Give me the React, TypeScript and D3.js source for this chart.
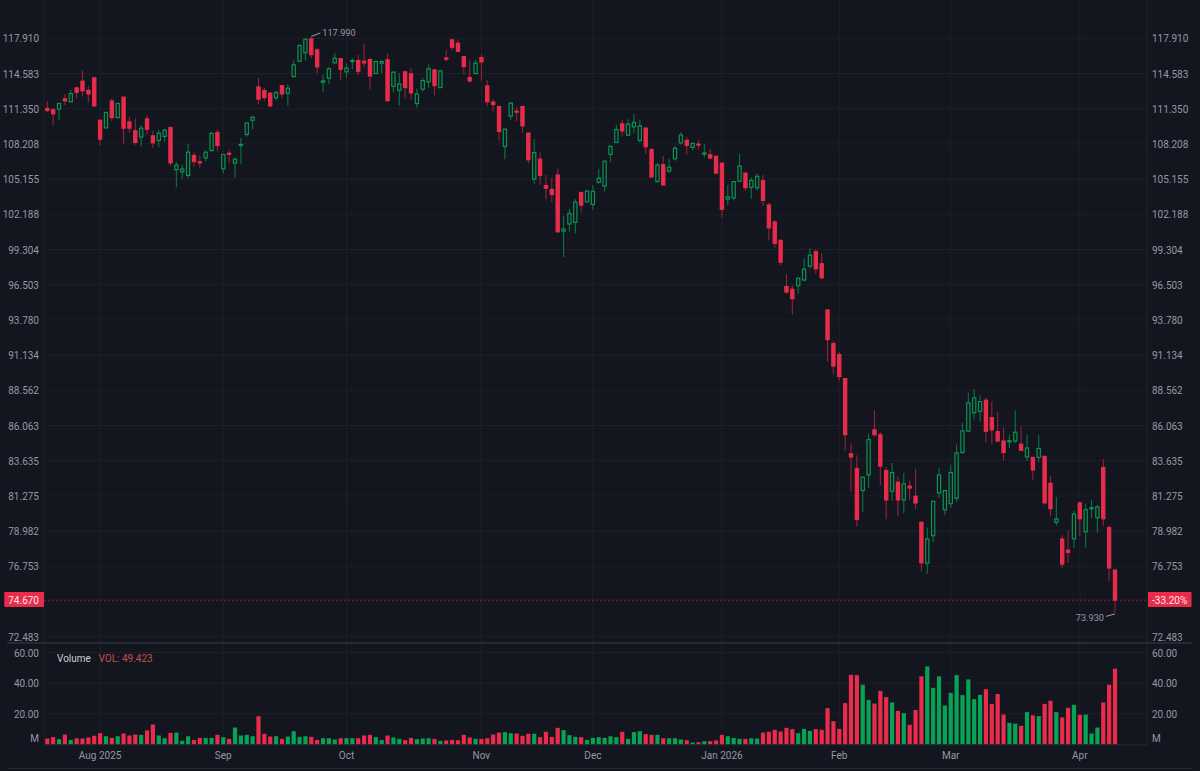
import * as d3 from 'd3'

// Daily candles, Jul 2025 - Apr 2026
const opens = [
  111.37, 111.25, 111.31, 112.25, 111.98, 113.25, 113.87, 113.01, 114.18, 110.31, 109.63, 112.04, 110.55, 112.40, 110.16,
  109.37, 108.81, 110.43, 108.92, 108.51, 108.87, 109.66, 105.96, 105.78, 105.47, 107.19, 106.64, 106.99, 107.62, 109.22,
  106.04, 107.39, 106.53, 108.07, 109.04, 110.31, 113.34, 113.01, 112.76, 112.34, 113.46, 112.76, 114.30, 115.73, 116.54,
  117.85, 116.80, 113.77, 114.15, 115.58, 115.98, 114.74, 115.70, 115.80, 115.73, 115.89, 114.58, 115.55, 115.86, 113.40,
  113.04, 114.74, 114.55, 111.82, 113.13, 113.81, 114.92, 113.28, 116.04, 117.76, 117.44, 116.17, 114.21, 114.58, 116.07,
  113.43, 111.95, 111.55, 107.98, 110.67, 111.13, 111.55, 109.16, 105.15, 106.87, 104.60, 104.27, 105.50, 100.80, 101.38,
  101.52, 104.02, 103.23, 103.01, 104.88, 104.56, 107.29, 108.34, 109.99, 108.98, 109.72, 108.51, 109.60, 107.70, 104.94,
  106.39, 105.84, 106.91, 108.30, 108.51, 107.90, 108.19, 107.32, 107.26, 107.12, 106.53, 103.46, 103.57, 104.97, 105.67,
  104.45, 104.42, 105.01, 102.96, 101.55, 100.04, 96.35, 96.14, 96.43, 96.87, 97.97, 99.12, 98.16, 94.54, 91.99,
  91.17, 89.41, 84.11, 83.11, 81.63, 82.67, 85.76, 85.41, 82.96, 81.58, 82.18, 81.01, 81.92, 81.25, 79.55,
  76.95, 78.69, 81.47, 80.36, 80.76, 81.12, 84.20, 85.67, 86.96, 87.06, 87.85, 86.61, 85.63, 84.98, 84.93,
  84.98, 84.77, 83.89, 83.86, 83.86, 83.93, 82.11, 79.55, 78.47, 77.77, 78.49, 80.81, 78.94, 80.44, 79.85,
  83.17, 79.20, 76.52,
]
const closes = [
  111.19, 110.89, 111.82, 112.07, 112.73, 112.85, 112.98, 112.70, 111.61, 108.63, 111.01, 110.55, 111.82, 109.60, 109.60,
  108.34, 109.60, 109.51, 108.31, 109.16, 109.42, 106.56, 106.36, 106.02, 107.48, 106.67, 106.56, 107.48, 109.13, 108.07,
  107.28, 107.30, 106.87, 108.16, 110.07, 110.58, 112.22, 112.37, 111.61, 112.82, 112.70, 113.22, 115.39, 117.22, 117.82,
  116.36, 115.20, 113.90, 115.02, 116.01, 114.98, 115.08, 115.80, 114.80, 115.58, 114.36, 115.70, 115.70, 112.07, 114.71,
  113.62, 113.28, 112.79, 112.70, 113.93, 115.02, 113.46, 114.83, 115.92, 117.06, 116.67, 115.24, 113.90, 115.55, 115.67,
  111.98, 111.73, 109.31, 109.51, 111.85, 111.04, 109.81, 106.82, 107.45, 105.47, 104.38, 103.85, 100.75, 100.97, 102.26,
  103.21, 102.96, 104.14, 104.11, 105.22, 106.70, 107.99, 109.48, 109.36, 109.96, 110.11, 109.81, 107.96, 105.34, 106.36,
  104.65, 106.18, 107.82, 109.00, 108.08, 108.25, 108.11, 107.41, 106.97, 105.67, 102.60, 103.66, 104.94, 106.27, 104.42,
  105.04, 105.39, 103.35, 101.07, 99.80, 98.29, 95.93, 95.41, 97.00, 97.73, 98.85, 97.76, 97.05, 92.29, 90.33,
  89.56, 85.43, 83.89, 79.73, 82.52, 85.08, 85.43, 83.27, 81.01, 82.83, 81.01, 82.07, 81.80, 80.81, 76.97,
  78.48, 80.92, 82.67, 81.63, 82.83, 84.16, 85.69, 87.66, 88.02, 87.75, 85.66, 85.76, 84.98, 84.20, 85.01,
  85.59, 84.34, 84.50, 83.01, 84.47, 80.82, 80.44, 79.76, 76.89, 77.63, 80.08, 79.78, 80.37, 80.50, 80.55,
  79.78, 76.65, 74.67,
]
const highs = [
  112.04, 111.43, 111.92, 112.67, 113.07, 113.37, 114.86, 113.43, 114.18, 110.31, 111.07, 112.28, 111.88, 112.40, 110.61,
  110.49, 109.87, 110.79, 109.37, 109.45, 109.54, 109.66, 106.62, 106.41, 108.19, 107.45, 107.16, 107.62, 109.28, 109.45,
  107.33, 107.74, 107.02, 108.72, 110.13, 110.70, 114.18, 113.28, 112.85, 112.98, 113.52, 113.58, 115.80, 117.35, 117.92,
  117.99, 116.99, 114.46, 115.17, 116.51, 116.04, 115.52, 115.98, 116.32, 117.38, 116.01, 115.80, 115.86, 116.48, 114.80,
  114.61, 114.83, 115.08, 113.19, 114.18, 115.45, 114.98, 114.89, 116.80, 117.82, 117.79, 116.23, 115.80, 115.86, 116.36,
  113.96, 112.22, 111.61, 109.57, 111.98, 111.49, 111.58, 109.22, 108.63, 107.48, 105.50, 105.27, 106.04, 102.06, 102.62,
  103.46, 104.02, 104.19, 104.62, 106.04, 106.76, 108.08, 109.90, 110.38, 110.41, 110.89, 110.35, 109.69, 107.85, 106.53,
  107.17, 106.88, 108.05, 109.21, 108.83, 108.34, 108.51, 108.19, 107.76, 107.12, 106.53, 104.65, 104.97, 107.35, 105.73,
  105.30, 105.64, 105.50, 103.15, 101.71, 100.15, 97.34, 96.43, 97.08, 98.61, 99.40, 99.34, 99.01, 94.54, 92.19,
  91.37, 89.41, 84.82, 84.00, 82.56, 85.48, 87.13, 85.60, 83.23, 83.48, 82.56, 82.78, 82.29, 83.09, 79.55,
  79.21, 80.92, 83.13, 81.67, 83.36, 84.75, 86.26, 88.41, 88.65, 88.18, 88.02, 87.78, 86.99, 85.94, 85.42,
  87.13, 85.99, 85.42, 83.89, 85.38, 83.93, 82.60, 81.21, 78.73, 79.05, 80.30, 80.90, 80.75, 80.99, 80.68,
  83.73, 79.35, 76.52,
]
const lows = [
  111.04, 109.87, 110.28, 111.67, 111.92, 112.25, 112.46, 111.92, 111.52, 108.04, 109.54, 110.25, 110.46, 108.19, 109.22,
  108.13, 107.95, 109.04, 107.86, 107.92, 108.40, 106.30, 104.46, 105.15, 105.24, 106.21, 106.13, 106.67, 107.51, 107.57,
  105.64, 106.56, 105.29, 106.41, 108.87, 109.48, 111.73, 112.07, 111.49, 112.10, 112.34, 111.61, 114.24, 115.67, 115.80,
  116.01, 114.61, 112.88, 113.62, 115.55, 113.99, 114.18, 114.98, 114.46, 115.17, 113.10, 114.55, 114.61, 112.04, 112.82,
  111.61, 112.25, 112.16, 111.43, 112.92, 113.25, 112.55, 113.25, 115.73, 116.74, 116.61, 114.46, 113.71, 114.52, 113.90,
  111.58, 111.07, 108.48, 106.87, 110.31, 110.25, 109.19, 106.50, 104.72, 104.69, 103.43, 103.22, 100.64, 98.68, 100.77,
  100.60, 102.35, 103.18, 102.57, 104.76, 104.08, 106.61, 108.28, 108.89, 108.95, 109.18, 108.34, 107.35, 105.31, 104.91,
  104.62, 105.70, 106.73, 108.16, 107.29, 107.64, 107.70, 107.03, 106.91, 105.64, 101.92, 102.96, 103.35, 104.94, 104.19,
  103.49, 104.19, 102.90, 100.05, 99.45, 98.05, 95.77, 94.21, 95.80, 96.77, 97.78, 97.37, 96.92, 90.66, 89.73,
  89.27, 84.30, 81.56, 79.29, 80.21, 81.80, 85.29, 81.98, 79.75, 80.96, 79.95, 80.14, 81.01, 80.42, 76.45,
  76.28, 78.29, 81.14, 80.01, 80.52, 80.89, 84.09, 85.62, 86.49, 86.34, 84.89, 84.80, 84.93, 83.64, 84.50,
  84.84, 84.29, 83.62, 82.31, 83.55, 80.70, 79.96, 79.33, 76.61, 76.98, 77.90, 78.67, 77.92, 79.78, 78.88,
  79.29, 75.84, 73.93,
]
const volumes = [
  3.7, 4.6, 3.3, 6.3, 2.8, 3.9, 3.7, 4.4, 5.5, 7.2, 5.2, 4.1, 5.2, 7.0, 5.7,
  6.3, 6.1, 9.0, 12.9, 5.7, 3.9, 7.4, 7.6, 2.2, 5.2, 2.8, 4.1, 4.1, 4.1, 6.1,
  4.6, 3.5, 10.9, 5.7, 6.1, 5.2, 18.3, 6.8, 5.0, 5.2, 3.5, 5.0, 8.5, 4.8, 5.2,
  4.8, 2.8, 3.9, 3.9, 3.1, 3.9, 3.9, 3.9, 3.9, 5.7, 6.1, 4.6, 2.8, 5.7, 4.4,
  3.5, 2.6, 4.1, 3.3, 3.7, 3.9, 3.5, 2.2, 2.4, 2.8, 2.6, 6.1, 4.4, 3.5, 3.5,
  3.9, 6.3, 7.6, 7.9, 7.2, 7.0, 5.5, 6.8, 6.8, 4.6, 8.1, 4.8, 10.7, 9.2, 5.9,
  4.8, 4.6, 2.8, 4.1, 4.6, 4.1, 5.2, 4.6, 8.1, 3.5, 7.9, 8.5, 6.6, 6.1, 6.1,
  3.9, 3.9, 3.9, 3.1, 2.6, 1.1, 1.3, 2.0, 2.0, 2.4, 6.1, 5.2, 4.1, 3.5, 3.5,
  3.9, 3.7, 7.6, 8.1, 9.4, 8.3, 10.7, 9.8, 7.2, 10.0, 8.7, 9.8, 9.4, 23.6, 15.1,
  10.0, 26.9, 45.4, 45.2, 38.9, 29.0, 26.6, 34.9, 30.8, 27.3, 21.8, 20.3, 12.7, 22.3, 44.4,
  50.9, 36.9, 44.4, 25.3, 33.6, 45.2, 32.1, 42.4, 29.5, 32.3, 36.0, 26.4, 32.8, 19.4, 14.0,
  13.5, 12.0, 21.0, 18.9, 18.4, 26.4, 28.4, 21.0, 17.5, 23.8, 25.8, 19.2, 19.4, 7.0, 10.9,
  27.3, 38.9, 49.42,
]

const priceTicks = [
  117.91, 114.583, 111.35, 108.208, 105.155, 102.188, 99.304, 96.503, 93.78, 91.134, 88.562, 86.063, 83.635, 81.275,
  78.982, 76.753, 72.483,
]
const volumeTicks = [60, 40, 20]
const monthLabels = ['Aug 2025', 'Sep', 'Oct', 'Nov', 'Dec', 'Jan 2026', 'Feb', 'Mar', 'Apr']
const monthStarts = [9, 30, 51, 74, 93, 115, 135, 154, 176]

const lastPrice = 74.67
const lastChange = '-33.20%'
const highPrice = 117.99
const lowPrice = 73.93

const BG = '#13161e'
const GRID = '#1d2029'
const AXIS = '#9299a8'
const UP = '#0b9553'
const UP_WICK = '#0a7544'
const UP_VOL = '#08a257'
const DOWN = '#e92c4b'
const DOWN_WICK = '#93233a'
const FONT = 'Roboto, sans-serif'

const left = 44
const right = 1147

const x = d3.scaleLinear().domain([0, opens.length - 1]).range([47.3, 1115])
const y = d3.scaleLog().domain([72.483, 117.91]).range([636.7, 38.3])
const yVol = d3.scaleLinear().domain([0, 60]).range([744.2, 652.5])

export default function App() {
  const fmtVol = d3.format('.2f')
  const fmtPrice = d3.format('.3f')
  const lastY = y(lastPrice)
  const hiIdx = highs.indexOf(highPrice)
  const loIdx = lows.indexOf(lowPrice)

  return (
    <div style={{ position: 'fixed', inset: 0, background: BG }}>
      <svg width={1200} height={771} style={{ display: 'block' }} fontFamily={FONT} fontSize={10}>
        <rect width={1200} height={771} fill={BG} />

        {/* grid */}
        {priceTicks.map((t) => (
          <line key={t} x1={left} x2={right} y1={y(t)} y2={y(t)} stroke={GRID} />
        ))}
        {volumeTicks.map((t) => (
          <line key={t} x1={left} x2={right} y1={yVol(t)} y2={yVol(t)} stroke={GRID} />
        ))}
        {monthStarts.map((i) => (
          <line key={i} x1={x(i)} x2={x(i)} y1={0} y2={744} stroke={GRID} />
        ))}
        <line x1={left} x2={left} y1={0} y2={744} stroke={GRID} />
        <line x1={right} x2={right} y1={0} y2={744} stroke={GRID} />

        {/* pane borders */}
        <line x1={7} x2={1192} y1={643} y2={643} stroke="#262a34" strokeWidth={2} />
        <line x1={left} x2={right} y1={744.8} y2={744.8} stroke="#262a34" />
        <line x1={7} x2={1192} y1={768.5} y2={768.5} stroke="#262a34" />

        {/* candles */}
        {opens.map((o, i) => {
          const c = closes[i]
          const up = c >= o
          const top = y(Math.max(o, c))
          const bottom = y(Math.min(o, c))
          const cx = x(i)
          return (
            <g key={i}>
              <line
                x1={cx}
                x2={cx}
                y1={y(highs[i])}
                y2={y(lows[i])}
                stroke={up ? UP_WICK : DOWN_WICK}
                strokeWidth={1.1}
              />
              <rect
                x={cx - 1.6}
                y={top}
                width={3.2}
                height={Math.max(bottom - top, 1)}
                fill={up ? BG : DOWN}
                stroke={up ? UP : DOWN}
                strokeWidth={1.2}
              />
            </g>
          )
        })}

        {/* volume */}
        {volumes.map((v, i) => (
          <rect
            key={i}
            x={x(i) - 2.1}
            y={yVol(v)}
            width={4.2}
            height={yVol(0) - yVol(v)}
            fill={closes[i] >= opens[i] ? UP_VOL : DOWN}
          />
        ))}

        {/* last price */}
        <line
          x1={left}
          x2={right}
          y1={lastY}
          y2={lastY}
          stroke="#b02a42"
          strokeWidth={1}
          strokeDasharray="1.5 2.5"
        />

        {/* high / low markers */}
        <path
          d={`M${x(hiIdx)},${y(highPrice) - 1} L${x(hiIdx) + 9},${y(highPrice) - 4.5}`}
          stroke="#9aa0ad"
          fill="none"
        />
        <text x={x(hiIdx) + 11} y={y(highPrice) - 1.5} fill={AXIS} fontSize={9.2}>
          {fmtPrice(highPrice)}
        </text>
        <path
          d={`M${x(loIdx)},${y(lowPrice) + 1.5} L${x(loIdx) - 9},${y(lowPrice) + 4}`}
          stroke="#9aa0ad"
          fill="none"
        />
        <text x={x(loIdx) - 11} y={y(lowPrice) + 9} fill={AXIS} textAnchor="end" fontSize={9.2}>
          {fmtPrice(lowPrice)}
        </text>

        {/* price axes */}
        {priceTicks.map((t) => (
          <g key={t} fill={AXIS}>
            <text x={39} y={y(t) + 4} textAnchor="end">
              {fmtPrice(t)}
            </text>
            <text x={1152} y={y(t) + 4}>
              {fmtPrice(t)}
            </text>
          </g>
        ))}

        {/* volume axes */}
        {volumeTicks.map((t) => (
          <g key={t} fill={AXIS}>
            <text x={39} y={yVol(t) + 4} textAnchor="end">
              {fmtVol(t)}
            </text>
            <text x={1152} y={yVol(t) + 4}>
              {fmtVol(t)}
            </text>
          </g>
        ))}
        <text x={39} y={741.5} textAnchor="end" fill={AXIS}>
          M
        </text>
        <text x={1152} y={741.5} fill={AXIS}>
          M
        </text>

        <text x={57} y={661.5} fill="#c9ced8">
          Volume
        </text>
        <text x={98.5} y={661.5} fill="#c4504f">
          VOL: 49.423
        </text>

        {/* time axis */}
        {monthStarts.map((s, i) => (
          <text key={s} x={x(s)} y={759} textAnchor="middle" fill={AXIS}>
            {monthLabels[i]}
          </text>
        ))}

        {/* price tags */}
        <rect x={4.3} y={lastY - 8.2} width={39.7} height={15} fill={DOWN} />
        <text x={39} y={lastY + 3.6} textAnchor="end" fill="#fbe4e8">
          {fmtPrice(lastPrice)}
        </text>
        <rect x={1148} y={lastY - 8.2} width={43.5} height={15} fill={DOWN} />
        <text x={1152} y={lastY + 3.6} fill="#fbe4e8">
          {lastChange}
        </text>
      </svg>
    </div>
  )
}
